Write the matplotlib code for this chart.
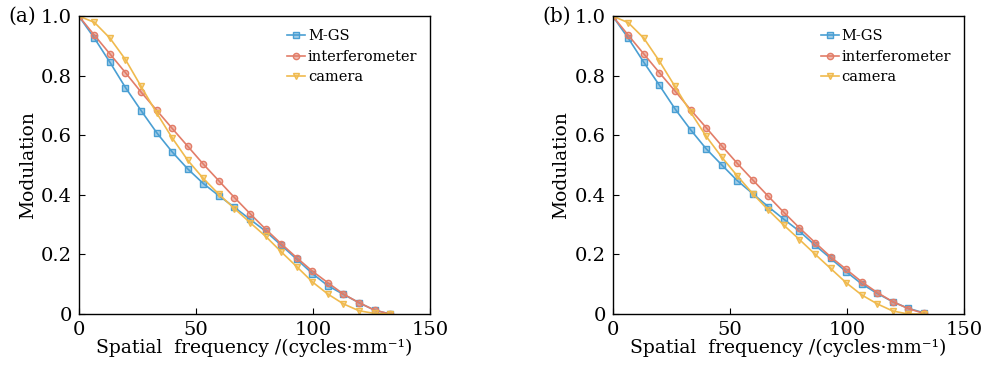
import numpy as np
import matplotlib
matplotlib.use("Agg")
import matplotlib.pyplot as plt

plt.rcParams['font.family'] = ['DejaVu Serif']

# spatial frequency samples (cycles/mm)
freq = np.arange(21) * 6.64

mgs_a = [1.0, 0.926, 0.845, 0.760, 0.683, 0.609, 0.544, 0.487, 0.438, 0.397, 0.358,
         0.318, 0.278, 0.231, 0.184, 0.136, 0.095, 0.066, 0.038, 0.013, 0.0]
intf_a = [1.0, 0.936, 0.873, 0.810, 0.745, 0.684, 0.623, 0.563, 0.503, 0.447, 0.391,
          0.337, 0.285, 0.236, 0.189, 0.144, 0.105, 0.067, 0.038, 0.013, 0.0]
cam_a = [1.0, 0.979, 0.926, 0.854, 0.764, 0.675, 0.591, 0.516, 0.455, 0.402, 0.354,
         0.307, 0.261, 0.209, 0.159, 0.108, 0.067, 0.034, 0.011, 0.002, 0.0]

mgs_b = [1.0, 0.926, 0.845, 0.768, 0.689, 0.619, 0.555, 0.501, 0.448, 0.404, 0.360,
         0.318, 0.278, 0.231, 0.187, 0.142, 0.101, 0.069, 0.041, 0.019, 0.004]
intf_b = [1.0, 0.936, 0.873, 0.810, 0.749, 0.686, 0.626, 0.565, 0.506, 0.450, 0.395,
          0.341, 0.289, 0.240, 0.192, 0.150, 0.108, 0.072, 0.041, 0.018, 0.002]
cam_b = [1.0, 0.978, 0.926, 0.849, 0.764, 0.678, 0.597, 0.527, 0.464, 0.404, 0.349,
         0.298, 0.250, 0.201, 0.153, 0.105, 0.064, 0.034, 0.010, 0.0, 0.0]

labels = ["M-GS", "interferometer", "camera"]
colors = ["#4a9fd3", "#e27d68", "#f0ba4e"]
markers = ["s", "o", "v"]

fig = plt.figure(figsize=(9.85, 3.66), dpi=100)
ax_a = fig.add_axes([0.080, 0.142, 0.357, 0.814])
ax_b = fig.add_axes([0.622, 0.142, 0.357, 0.814])

panels = [(ax_a, "(a)", [mgs_a, intf_a, cam_a]),
          (ax_b, "(b)", [mgs_b, intf_b, cam_b])]

for ax, tag, series in panels:
    for ys, lab, c, m in zip(series, labels, colors, markers):
        ax.plot(freq, ys, color=c, lw=1.2, marker=m, ms=4.5,
                mfc=c + "80", mec=c, mew=1.0, label=lab)
    ax.set_xlim(0, 150)
    ax.set_ylim(0, 1.0)
    ax.set_xticks([0, 50, 100, 150])
    ax.set_yticks([0, 0.2, 0.4, 0.6, 0.8, 1.0])
    ax.set_yticklabels(["0", "0.2", "0.4", "0.6", "0.8", "1.0"])
    ax.tick_params(direction="in", length=4, width=0.8, labelsize=14, pad=5)
    for sp in ax.spines.values():
        sp.set_linewidth(1.0)
    ax.set_xlabel("Spatial  frequency /(cycles\u00b7mm\u207b\u00b9)", fontsize=13.5, labelpad=0)
    ax.set_ylabel("Modulation", fontsize=13.5, labelpad=3)
    ax.legend(loc="upper right", bbox_to_anchor=(1.0, 1.0), frameon=False,
              fontsize=10.5, handlelength=1.2, handletextpad=0.2, labelspacing=0.45,
              borderaxespad=0.5)
    ax.text(-0.2, 1.0, tag, transform=ax.transAxes, fontsize=14.5, va="center", ha="left")

fig.savefig("out.png", dpi=100)
